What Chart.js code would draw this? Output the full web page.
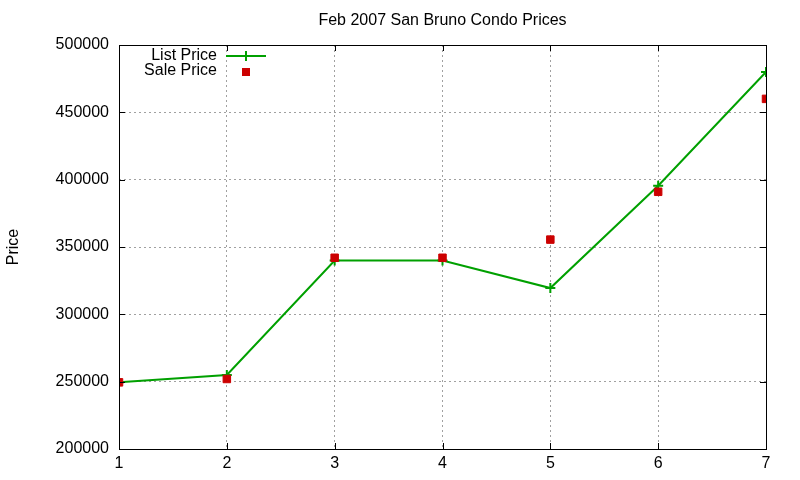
<!DOCTYPE html>
<html>
<head>
<meta charset="utf-8">
<script src="https://cdn.jsdelivr.net/npm/chart.js@4"></script>
<style>
html,body{margin:0;padding:0;background:#fff;}
#wrap{width:800px;height:480px;}
</style>
</head>
<body>
<div id="wrap"><canvas id="c" width="800" height="480"></canvas></div>
<script>
const titleText = "Feb 2007 San Bruno Condo Prices";
const yTitle = "Price";
const categories = [1, 2, 3, 4, 5, 6, 7];
const listPrice = [249500, 255000, 340000, 340000, 319500, 395500, 480000];
const salePrice = [249500, 252000, 342000, 342000, 355500, 391000, 460000];
const listLabel = "List Price";
const saleLabel = "Sale Price";
const yTicks = [200000, 250000, 300000, 350000, 400000, 450000, 500000];
const xTicks = [1, 2, 3, 4, 5, 6, 7];

const GREEN = '#00a000';
const RED = '#cc0000';
const FONT = '"Liberation Sans", Arial, sans-serif';

const framePlugin = {
  id: 'frame',
  afterDatasetsDraw(chart) {
    const {ctx, chartArea: a, scales: {x, y}} = chart;
    ctx.save();
    ctx.strokeStyle = '#000';
    ctx.lineWidth = 1;
    const tl = 6;
    ctx.beginPath();
    yTicks.forEach(v => {
      const py = Math.round(y.getPixelForValue(v)) + 0.5;
      ctx.moveTo(a.left, py); ctx.lineTo(a.left + tl, py);
      ctx.moveTo(a.right, py); ctx.lineTo(a.right - tl, py);
    });
    xTicks.forEach(v => {
      const px = Math.round(x.getPixelForValue(v)) + 0.5;
      ctx.moveTo(px, a.bottom); ctx.lineTo(px, a.bottom - tl);
      ctx.moveTo(px, a.top); ctx.lineTo(px, a.top + tl);
    });
    ctx.stroke();
    ctx.strokeRect(Math.round(a.left) + 0.5, Math.round(a.top) + 0.5,
                   Math.round(a.right - a.left), Math.round(a.bottom - a.top));
    // title
    ctx.font = '16px ' + FONT;
    ctx.fillStyle = '#000';
    ctx.textAlign = 'center';
    ctx.textBaseline = 'middle';
    ctx.fillText(titleText, (a.left + a.right) / 2, 21);
    // legend
    ctx.textAlign = 'right';
    ctx.fillText(listLabel, 217, 56);
    ctx.fillText(saleLabel, 217, 71);
    ctx.strokeStyle = GREEN;
    ctx.lineWidth = 2;
    ctx.beginPath();
    ctx.moveTo(226, 56); ctx.lineTo(266, 56);
    ctx.moveTo(246, 51); ctx.lineTo(246, 61);
    ctx.stroke();
    ctx.fillStyle = RED;
    ctx.fillRect(242, 68, 8, 8);
    ctx.restore();
  }
};

new Chart(document.getElementById('c'), {
  type: 'line',
  data: {
    datasets: [
      {
        label: listLabel,
        data: categories.map((c, i) => ({x: c, y: listPrice[i]})),
        borderColor: GREEN,
        backgroundColor: GREEN,
        borderWidth: 2,
        tension: 0,
        pointStyle: 'cross',
        pointRadius: 5,
        pointBorderWidth: 2,
        order: 1
      },
      {
        label: saleLabel,
        data: categories.map((c, i) => ({x: c, y: salePrice[i]})),
        showLine: false,
        borderColor: RED,
        backgroundColor: RED,
        pointStyle: 'rect',
        pointRadius: 5.3,
        pointBorderWidth: 1,
        order: 0
      }
    ]
  },
  options: {
    responsive: false,
    animation: false,
    devicePixelRatio: 1,
    layout: {padding: {left: 0, right: 34, top: 45, bottom: 0}},
    plugins: {
      legend: {display: false},
      tooltip: {enabled: false},
      title: {display: false}
    },
    scales: {
      x: {
        type: 'linear',
        min: 1, max: 7,
        afterBuildTicks(s) { s.ticks = xTicks.map(v => ({value: v})); },
        afterFit(s) { s.height = 31; },
        grid: {color: '#a0a0a0', lineWidth: 1, drawTicks: false},
        border: {display: false, dash: [2, 3]},
        ticks: {color: '#000', padding: 5, font: {family: FONT, size: 16}, maxRotation: 0}
      },
      y: {
        min: 200000, max: 500000,
        afterBuildTicks(s) { s.ticks = yTicks.map(v => ({value: v})); },
        afterFit(s) { s.width = 119; },
        grid: {color: '#a0a0a0', lineWidth: 1, drawTicks: false},
        border: {display: false, dash: [2, 3]},
        ticks: {color: '#000', padding: 10, font: {family: FONT, size: 16}, callback: v => String(v)},
        title: {
          display: true, text: yTitle, color: '#000',
          font: {family: FONT, size: 16}, padding: {top: 4, bottom: 0}
        }
      }
    }
  },
  plugins: [framePlugin]
});
</script>
</body>
</html>
